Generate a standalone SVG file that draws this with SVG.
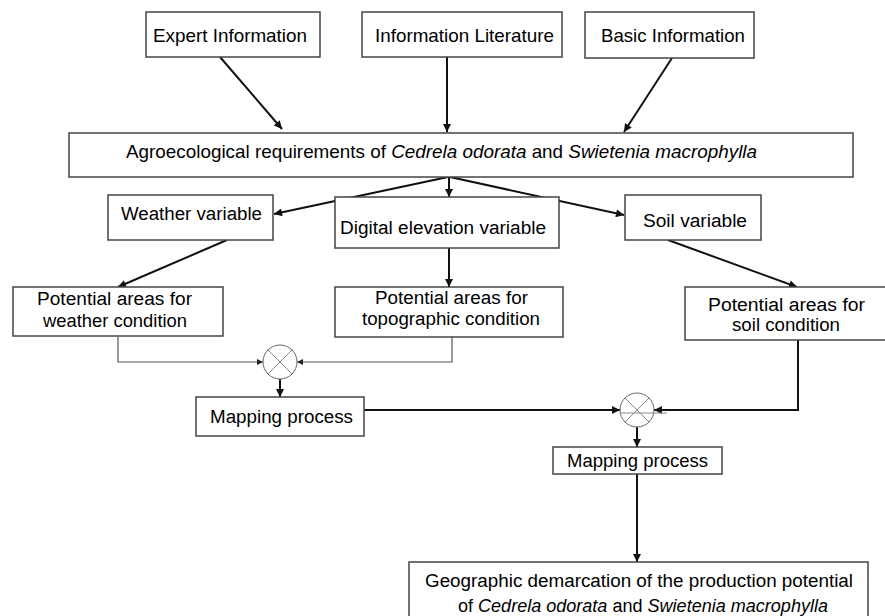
<svg xmlns="http://www.w3.org/2000/svg" width="885" height="616" viewBox="0 0 885 616">
<style>
.box{fill:#fff;stroke:#444;stroke-width:1.5}
.t{font-family:"Liberation Sans",Arial,sans-serif;font-size:18px;fill:#000}
.n{font-size:19px}
.i{font-style:italic}
.c{fill:none;stroke:#111;stroke-width:2}
.thin{fill:none;stroke:#555;stroke-width:1.2}
.circ{fill:#fff;stroke:#666;stroke-width:1}
.x{stroke:#888;stroke-width:1}
</style>
<defs>
<marker id="ah" viewBox="0 0 10 10" refX="10" refY="5" markerWidth="10" markerHeight="8" markerUnits="userSpaceOnUse" orient="auto">
<path d="M0,0 L10,5 L0,10 z" fill="#111"/>
</marker>
<marker id="as" viewBox="0 0 10 10" refX="10" refY="5" markerWidth="7" markerHeight="6" markerUnits="userSpaceOnUse" orient="auto">
<path d="M0,0 L10,5 L0,10 z" fill="#222"/>
</marker>
</defs>
<rect width="885" height="616" fill="#fff"/>
<g id="connectors">
<line class="c" x1="220" y1="57" x2="282" y2="129" stroke-width="1.5" marker-end="url(#ah)"/>
<line class="c" x1="447" y1="57" x2="447" y2="132" marker-end="url(#ah)"/>
<line class="c" x1="672" y1="58" x2="624" y2="132" stroke-width="1.5" marker-end="url(#ah)"/>
<line class="c" x1="448" y1="177" x2="274" y2="214" marker-end="url(#ah)"/>
<line class="c" x1="449" y1="177" x2="449" y2="197" marker-end="url(#ah)"/>
<line class="c" x1="450" y1="177" x2="624" y2="215" marker-end="url(#ah)"/>
<line class="c" x1="227" y1="240" x2="118" y2="287" marker-end="url(#ah)"/>
<line class="c" x1="449" y1="248" x2="449" y2="287" marker-end="url(#ah)"/>
<line class="c" x1="668" y1="240" x2="797" y2="287" marker-end="url(#ah)"/>
<polyline class="thin" points="118,337 118,362 263,362" marker-end="url(#as)"/>
<polyline class="thin" points="452,337 452,362 297,362" marker-end="url(#as)"/>
<line class="c" x1="280" y1="379" x2="280" y2="397" marker-end="url(#ah)"/>
<polyline class="c" points="364,410 620,410" marker-end="url(#ah)"/>
<polyline class="c" points="798,340 798,410 654,410" marker-end="url(#ah)"/>
<line class="c" x1="637" y1="427" x2="637" y2="447" marker-end="url(#ah)"/>
<line class="c" x1="637" y1="474" x2="637" y2="562" marker-end="url(#ah)"/>
</g>
<g id="expert">
<rect class="box" x="146" y="12" width="174" height="45"/>
<text class="t n" x="153" y="42" textLength="154" lengthAdjust="spacingAndGlyphs">Expert Information</text>
</g>
<g id="literature">
<rect class="box" x="362" y="12" width="200" height="45"/>
<text class="t n" x="375" y="42" textLength="179" lengthAdjust="spacingAndGlyphs">Information Literature</text>
</g>
<g id="basic">
<rect class="box" x="585" y="12" width="169" height="46"/>
<text class="t n" x="601" y="42" textLength="144" lengthAdjust="spacingAndGlyphs">Basic Information</text>
</g>
<g id="agro">
<rect class="box" x="69" y="133" width="784" height="44"/>
<text class="t n" x="126" y="158" textLength="631" lengthAdjust="spacingAndGlyphs">Agroecological requirements of <tspan class="i">Cedrela odorata</tspan> and <tspan class="i">Swietenia macrophylla</tspan></text>
</g>
<g id="weather">
<rect class="box" x="108" y="195" width="165" height="45"/>
<text class="t" x="121" y="220" textLength="141" lengthAdjust="spacingAndGlyphs">Weather variable</text>
</g>
<g id="digital">
<rect class="box" x="335" y="197" width="224" height="51"/>
<text class="t" x="340" y="234" textLength="206" lengthAdjust="spacingAndGlyphs">Digital elevation variable</text>
</g>
<g id="soil">
<rect class="box" x="625" y="195" width="136" height="45"/>
<text class="t" x="643" y="227" textLength="104" lengthAdjust="spacingAndGlyphs">Soil variable</text>
</g>
<g id="pot-weather">
<rect class="box" x="13" y="287" width="210" height="49"/>
<text class="t" x="37" y="305" textLength="155" lengthAdjust="spacingAndGlyphs">Potential areas for</text>
<text class="t" x="43" y="327" textLength="144" lengthAdjust="spacingAndGlyphs">weather condition</text>
</g>
<g id="pot-topo">
<rect class="box" x="335" y="287" width="228" height="50"/>
<text class="t" x="375" y="304" textLength="153" lengthAdjust="spacingAndGlyphs">Potential areas for</text>
<text class="t" x="362" y="325" textLength="178" lengthAdjust="spacingAndGlyphs">topographic condition</text>
</g>
<g id="pot-soil">
<rect class="box" x="685" y="287" width="210" height="53"/>
<text class="t" x="708" y="311" textLength="157" lengthAdjust="spacingAndGlyphs">Potential areas for</text>
<text class="t" x="732" y="331" textLength="108" lengthAdjust="spacingAndGlyphs">soil condition</text>
</g>
<g id="combine1">
<circle class="circ" cx="280" cy="362" r="17"/>
<line class="x" x1="268" y1="350" x2="292" y2="374"/>
<line class="x" x1="292" y1="350" x2="268" y2="374"/>
</g>
<g id="mapping1">
<rect class="box" x="196" y="397" width="168" height="39"/>
<text class="t" x="210" y="423" textLength="143" lengthAdjust="spacingAndGlyphs">Mapping process</text>
</g>
<g id="combine2">
<circle class="circ" cx="637" cy="410" r="17"/>
<line class="x" x1="625" y1="398" x2="649" y2="422"/>
<line class="x" x1="649" y1="398" x2="625" y2="422"/>
<line class="x" x1="621" y1="413" x2="667" y2="413"/>
</g>
<g id="mapping2">
<rect class="box" x="553" y="447" width="169" height="27"/>
<text class="t" x="567" y="467" textLength="141" lengthAdjust="spacingAndGlyphs">Mapping process</text>
</g>
<g id="geographic">
<rect class="box" x="409" y="562" width="459" height="60"/>
<text class="t" x="425" y="587" textLength="428" lengthAdjust="spacingAndGlyphs">Geographic demarcation of the production potential</text>
<text class="t" x="458" y="612" textLength="370" lengthAdjust="spacingAndGlyphs">of <tspan class="i">Cedrela odorata</tspan> and <tspan class="i">Swietenia macrophylla</tspan></text>
</g>
</svg>
